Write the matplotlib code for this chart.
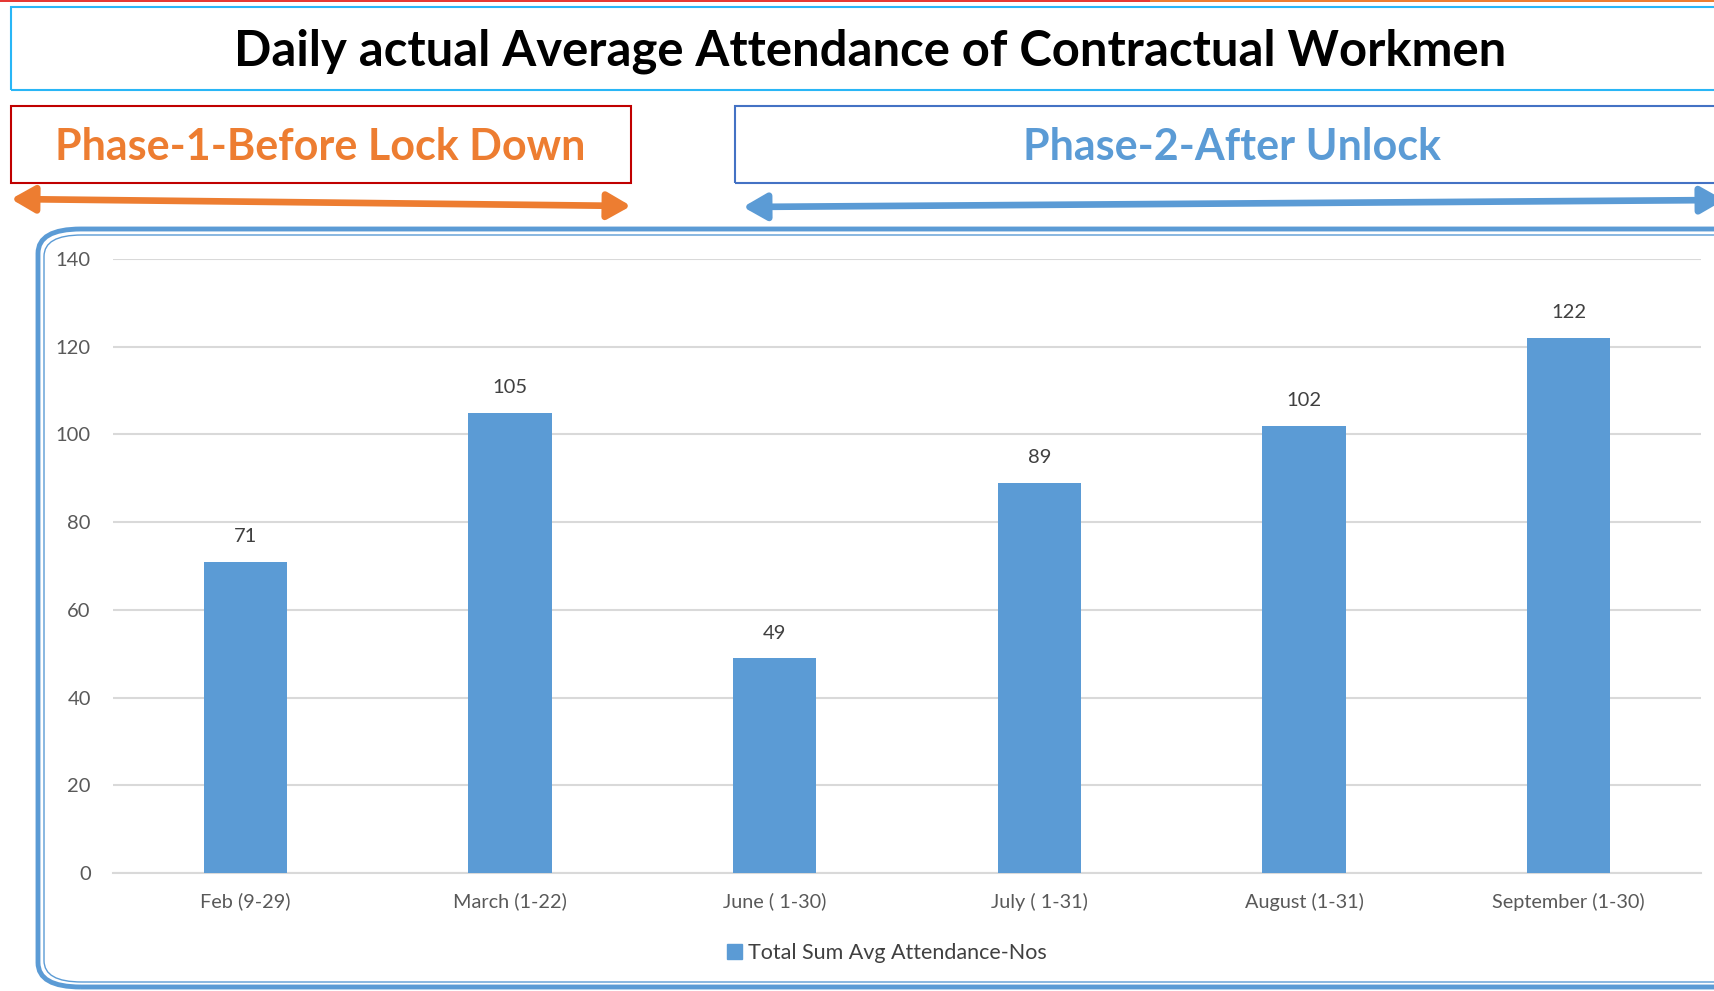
"""
Daily actual average attendance of contractual workmen, before lock down vs after unlock.
"""
import matplotlib
matplotlib.use("Agg")
import matplotlib.pyplot as plt
from matplotlib.patches import FancyBboxPatch, Rectangle, FancyArrowPatch, Patch

categories = ["Feb (9-29)", "March (1-22)", "June ( 1-30)", "July ( 1-31)",
              "August (1-31)", "September (1-30)"]
attendance = [71, 105, 49, 89, 102, 122]
y_ticks = [0, 20, 40, 60, 80, 100, 120, 140]
series_name = "Total Sum Avg Attendance-Nos"

title = "Daily actual Average Attendance of Contractual Workmen"
phase1 = "Phase-1-Before Lock Down"
phase2 = "Phase-2-After Unlock"

W, H = 1714, 991
BLUE = "#5B9BD5"
ORANGE = "#ED7D31"
GRAY = "#595959"

plt.rcParams["font.family"] = ["Lato", "DejaVu Sans"]

fig = plt.figure(figsize=(W / 100, H / 100), dpi=100)


def fx(px):
    return px / W


def fy(py):
    return 1 - py / H


def box(x0, y0, x1, y1, color, lw):
    fig.patches.append(Rectangle((fx(x0), fy(y1)), fx(x1) - fx(x0), fy(y0) - fy(y1),
                                 transform=fig.transFigure, fill=False,
                                 edgecolor=color, linewidth=lw))


# thin red strip along the very top
fig.patches.append(Rectangle((0, fy(2)), fx(1150), fy(0) - fy(2), transform=fig.transFigure,
                             color="#E53935", linewidth=0))
fig.patches.append(Rectangle((fx(1150), fy(2)), 1 - fx(1150), fy(0) - fy(2),
                             transform=fig.transFigure, color="#ED7D31", linewidth=0))

# title box
box(11, 7, 1730, 90, "#29B6F6", 1.5)
fig.text(fx(870), fy(51), title, ha="center", va="center", fontsize=35.3,
         fontweight="bold", color="black")

# phase boxes
box(11, 106, 631, 183, "#C00000", 1.5)
fig.text(fx(320), fy(147), phase1, ha="center", va="center", fontsize=31,
         fontweight="bold", color=ORANGE)
box(735, 106, 1730, 183, "#4472C4", 1.5)
fig.text(fx(1232), fy(147), phase2, ha="center", va="center", fontsize=31,
         fontweight="bold", color=BLUE)

# phase arrows
for (x0, y0, x1, y1, c) in [(11, 199, 631, 206, ORANGE), (743, 207, 1724, 200, BLUE)]:
    fig.patches.append(FancyArrowPatch((fx(x0), fy(y0)), (fx(x1), fy(y1)),
                                       transform=fig.transFigure,
                                       arrowstyle="<|-|>,head_length=1.4,head_width=0.8",
                                       mutation_scale=10, color=c, linewidth=4.8,
                                       shrinkA=0, shrinkB=0))

# rounded chart frame (double line)
fig.patches.append(FancyBboxPatch((fx(38), fy(987)), fx(1770) - fx(38), fy(229) - fy(987),
                                  boxstyle="round,pad=0,rounding_size=0.025",
                                  transform=fig.transFigure, fill=False,
                                  edgecolor=BLUE, linewidth=3.5, mutation_aspect=H / W * 1.7))
fig.patches.append(FancyBboxPatch((fx(44), fy(982)), fx(1770) - fx(44), fy(235) - fy(982),
                                  boxstyle="round,pad=0,rounding_size=0.022",
                                  transform=fig.transFigure, fill=False,
                                  edgecolor=BLUE, linewidth=1.0, mutation_aspect=H / W * 1.7))

# bar chart
ax = fig.add_axes([fx(113), fy(873), fx(1701) - fx(113), fy(259) - fy(873)])
x = range(len(categories))
bars = ax.bar(x, attendance, width=0.314, color=BLUE, zorder=3)
ax.set_xlim(-0.5, len(categories) - 0.5)
ax.set_ylim(0, 140)
ax.set_yticks(y_ticks)
ax.set_xticks(list(x))
ax.set_xticklabels(categories)
ax.tick_params(axis="y", length=0, pad=16, labelsize=14.5, labelcolor=GRAY)
ax.tick_params(axis="x", length=0, pad=14, labelsize=14.3, labelcolor=GRAY)
ax.grid(axis="y", color="#D9D9D9", linewidth=1.5, zorder=0)
for s in ["left", "right", "top"]:
    ax.spines[s].set_visible(False)
ax.spines["bottom"].set_color("#D9D9D9")
ax.spines["bottom"].set_linewidth(1.5)
ax.set_facecolor("none")

for b, v in zip(bars, attendance):
    ax.annotate(str(v), (b.get_x() + b.get_width() / 2, v), xytext=(0, 18),
                textcoords="offset points", ha="center", va="center",
                fontsize=14.5, color="#404040")

ax.legend(handles=[Patch(color=BLUE, label=series_name)], loc="center",
          bbox_to_anchor=(fx(887 - 113) / (fx(1701) - fx(113)), -80 / 614),
          frameon=False, fontsize=15.5, handlelength=0.7, handleheight=0.7,
          handletextpad=0.3, labelcolor="#404040")

fig.savefig("out.png", dpi=100)
